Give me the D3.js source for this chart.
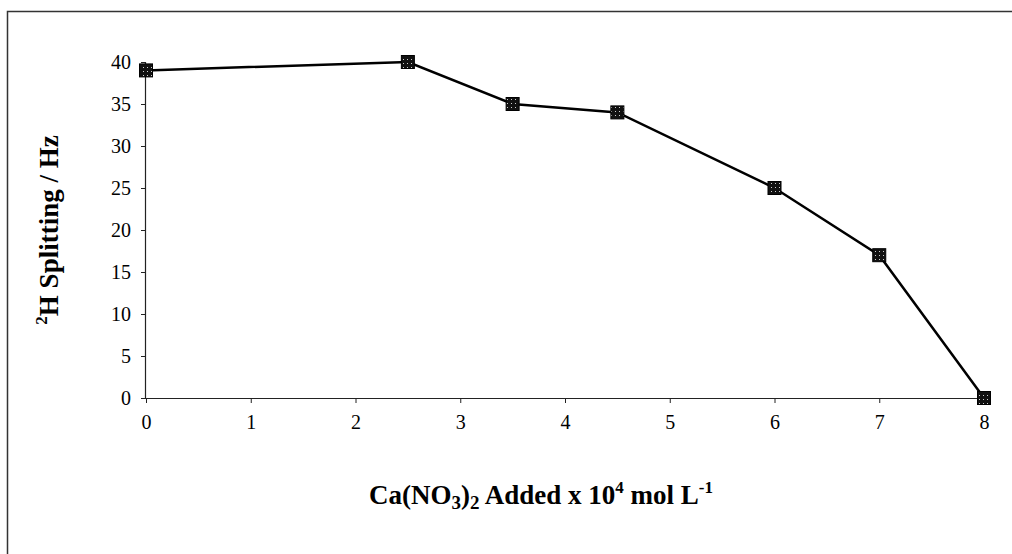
<!DOCTYPE html>
<html>
<head>
  <title>Splitting</title>
  <script src="https://cdn.jsdelivr.net/npm/d3@7"></script>
  <style>
    body { margin: 0; background: #fff; }
    text { font-family: "Liberation Serif", "DejaVu Serif", serif; }
  </style>
</head>
<body>
  <svg width="1012" height="554" id="mainsvg"></svg>
  <script>
    const concentrations = [0, 2.5, 3.5, 4.5, 6, 7, 8];
    const splittings = [39, 40, 35, 34, 25, 17, 0];
    const xTicks = [0, 1, 2, 3, 4, 5, 6, 7, 8];
    const yTicks = [0, 5, 10, 15, 20, 25, 30, 35, 40];

    const svg = d3.select('#mainsvg');
    const margin = { top: 62, right: 28, bottom: 156, left: 146 };
    const innerWidth = 1012 - margin.left - margin.right;
    const innerHeight = 554 - margin.top - margin.bottom;

    // frame (only top and left visible, the rest runs off the page)
    svg.append('path')
      .attr('d', 'M7.5,554V11.5H1012')
      .attr('fill', 'none').attr('stroke', '#333').attr('stroke-width', 1.5);

    const defs = svg.append('defs');
    const pat = defs.append('pattern')
      .attr('id', 'dots').attr('patternUnits', 'userSpaceOnUse')
      .attr('width', 4).attr('height', 4);
    pat.append('rect').attr('width', 4).attr('height', 4).attr('fill', '#111');
    pat.append('rect').attr('x', 1).attr('y', 1).attr('width', 1).attr('height', 1).attr('fill', '#ccc');

    const g = svg.append('g')
      .attr('transform', `translate(${margin.left}, ${margin.top})`);

    const x = d3.scaleLinear().domain([0, 8]).range([0, innerWidth]);
    const y = d3.scaleLinear().domain([0, 40]).range([innerHeight, 0]);

    const xAxis = g.append('g')
      .attr('transform', `translate(0, ${innerHeight})`)
      .call(d3.axisBottom(x).tickValues(xTicks).tickSize(5).tickPadding(12).tickFormat(d3.format('d')));
    const yAxis = g.append('g')
      .call(d3.axisLeft(y).tickValues(yTicks).tickSize(5).tickPadding(10).tickFormat(d3.format('d')));

    [xAxis, yAxis].forEach(a => {
      a.attr('font-size', 20).attr('font-family', '"Liberation Serif", serif');
      a.select('.domain').attr('stroke', '#222').attr('stroke-width', 1.2);
      a.selectAll('.tick line').attr('stroke', '#222');
      a.selectAll('.tick text').attr('fill', '#000');
    });
    xAxis.selectAll('.domain').attr('d', `M0,0.5H${innerWidth}`);
    yAxis.selectAll('.domain').attr('d', `M-0.5,${innerHeight}V0`);

    const pts = concentrations.map((c, i) => [c, splittings[i]]);

    g.append('path')
      .datum(pts)
      .attr('fill', 'none')
      .attr('stroke', '#000')
      .attr('stroke-width', 2.5)
      .attr('d', d3.line().x(d => x(d[0])).y(d => y(d[1])));

    g.selectAll('rect.marker').data(pts).join('rect')
      .attr('class', 'marker')
      .attr('x', d => x(d[0]) - 6.5)
      .attr('y', d => y(d[1]) - 6.5)
      .attr('width', 13).attr('height', 13)
      .attr('fill', 'url(#dots)')
      .attr('stroke', '#000').attr('stroke-width', 1);

    // axis titles
    const xt = svg.append('text')
      .attr('x', 541).attr('y', 504)
      .attr('text-anchor', 'middle')
      .style('font-size', '27px').style('font-weight', 'bold');
    xt.append('tspan').text('Ca(NO');
    xt.append('tspan').attr('dy', 5).style('font-size', '19px').text('3');
    xt.append('tspan').attr('dy', -5).text(')');
    xt.append('tspan').attr('dy', 5).style('font-size', '19px').text('2');
    xt.append('tspan').attr('dy', -5).text(' Added x 10');
    xt.append('tspan').attr('dy', -11).style('font-size', '17px').text('4');
    xt.append('tspan').attr('dy', 11).text(' mol L');
    xt.append('tspan').attr('dy', -11).style('font-size', '17px').text('-1');

    const yt = svg.append('text')
      .attr('transform', 'translate(58, 230) rotate(-90)')
      .attr('text-anchor', 'middle')
      .style('font-size', '27px').style('font-weight', 'bold');
    yt.append('tspan').attr('dy', -11).style('font-size', '17px').text('2');
    yt.append('tspan').attr('dy', 11).text('H Splitting / Hz');
  </script>
</body>
</html>
